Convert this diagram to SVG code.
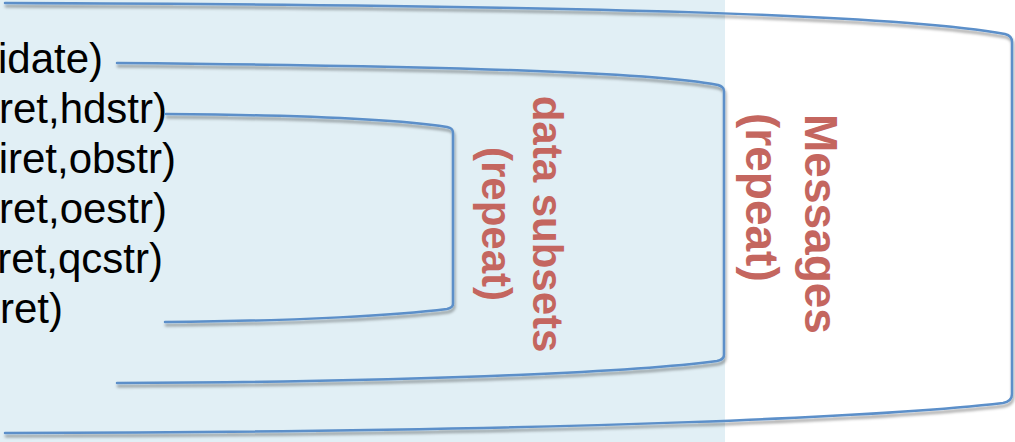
<svg xmlns="http://www.w3.org/2000/svg" width="1015" height="442" viewBox="0 0 1015 442">
<defs>
<style>
.code{font-family:"Liberation Sans",Arial,sans-serif;font-size:42px;fill:#000;text-anchor:end}
.lbl{font-family:"Liberation Sans",Arial,sans-serif;font-weight:bold;fill:#c4665f}
.br{fill:none;stroke:#5b8fc9;stroke-width:2.5;stroke-linecap:round;stroke-linejoin:round;filter:url(#sh)}
</style>
<filter id="sh" x="-5%" y="-20%" width="110%" height="140%">
<feDropShadow dx="1" dy="3" stdDeviation="1.5" flood-color="#000" flood-opacity="0.4"/>
</filter>
</defs>
<rect x="0" y="0" width="1015" height="442" fill="#ffffff"/>
<rect id="loop-area" x="0" y="0" width="725" height="442" fill="#e1eff5"/>
<g id="code-lines">
<text class="code" x="103" y="73">idate)</text>
<text class="code" x="167" y="123">ret,hdstr)</text>
<text class="code" x="176" y="173">iret,obstr)</text>
<text class="code" x="167" y="223">ret,oestr)</text>
<text class="code" x="163" y="273">ret,qcstr)</text>
<text class="code" x="63" y="323">ret)</text>
</g>
<g id="connectors">
<path id="bracket-messages" class="br" d="M5,3 C600,5 900,15 1005,34 C1009,35 1012,37 1012,42 L1012,394 C1012,400 1008,402 1003,403 C900,415 600,432 5,433"/>
<path id="bracket-middle" class="br" d="M117,63 C450,66 650,72 718,85 C721,86 724,87 724,91 L724,355 C724,359 721,360 717,361 C650,370 450,382 117,383"/>
<path id="bracket-subsets" class="br" d="M166,114 C300,115 400,120 447,127 C451,128 453,129 453,133 L453,304 C453,307 451,308 447,309 C400,315 300,321 165,322"/>
</g>
<g id="label-subsets">
<text class="lbl" font-size="42" text-anchor="middle" transform="translate(533,224) rotate(90)">data subsets</text>
<text class="lbl" font-size="42" text-anchor="middle" transform="translate(482,224) rotate(90)">(repeat)</text>
</g>
<g id="label-messages">
<text class="lbl" font-size="46" text-anchor="start" transform="translate(805,114) rotate(90)">Messages</text>
<text class="lbl" font-size="46" text-anchor="start" transform="translate(746,113) rotate(90)">(repeat)</text>
</g>
</svg>
